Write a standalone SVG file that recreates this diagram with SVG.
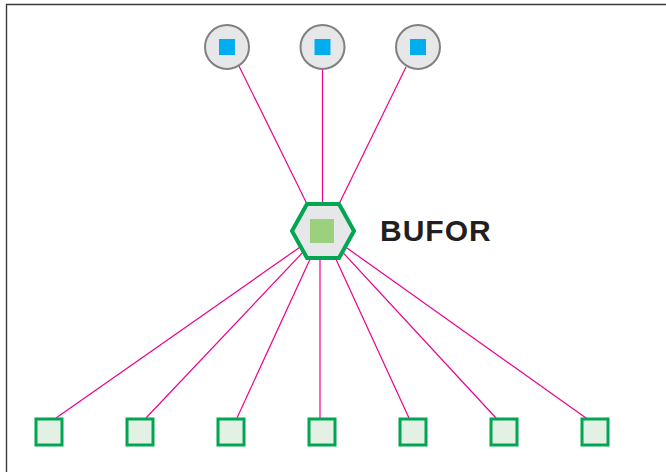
<svg xmlns="http://www.w3.org/2000/svg" width="666" height="472" viewBox="0 0 666 472">
<style>
.frame{fill:none;stroke:#3a3a3a;stroke-width:1.4}
.edge{stroke:#ec008c;stroke-width:1.2;fill:none}
.src circle{fill:#e6e7e8;stroke:#808080;stroke-width:2}
.src rect{fill:#00aeef}
.leaf rect{fill:#e3f1e5;stroke:#00a651;stroke-width:3}
.hub polygon{fill:#e6e7e8;stroke:#00a651;stroke-width:4;stroke-linejoin:miter}
.hub rect{fill:#9ccf7e}
.label{font-family:"Liberation Sans",Arial,sans-serif;font-weight:bold;font-size:30px;fill:#231f20;letter-spacing:1px}
</style>
<rect width="666" height="472" fill="#ffffff"/>
<path class="frame" d="M6.5,472 V4.5 H666"/>
<g id="connectors">
<line class="edge" x1="239" y1="66" x2="307" y2="204"/>
<line class="edge" x1="322.5" y1="69" x2="322.5" y2="204"/>
<line class="edge" x1="406" y1="67" x2="339" y2="204"/>
<line class="edge" x1="323" y1="231" x2="56" y2="418"/>
<line class="edge" x1="323" y1="231" x2="146" y2="418"/>
<line class="edge" x1="323" y1="231" x2="237" y2="418"/>
<line class="edge" x1="320" y1="250" x2="320" y2="418"/>
<line class="edge" x1="323" y1="231" x2="409" y2="418"/>
<line class="edge" x1="323" y1="231" x2="496" y2="418"/>
<line class="edge" x1="323" y1="231" x2="586" y2="418"/>
</g>
<g id="src1" class="src"><circle cx="227" cy="47" r="22"/><rect x="219" y="39" width="16" height="16"/></g>
<g id="src2" class="src"><circle cx="322.5" cy="47" r="22"/><rect x="314.5" y="39" width="16" height="16"/></g>
<g id="src3" class="src"><circle cx="418" cy="47" r="22"/><rect x="410" y="39" width="16" height="16"/></g>
<g id="hub" class="hub">
<polygon points="292,231 307,204 339,204 354,231 339,258 307,258"/>
<rect x="310" y="219" width="24" height="24"/>
</g>
<text id="hub-label" class="label" x="380" y="241">BUFOR</text>
<g id="leaf1" class="leaf"><rect x="36" y="419" width="26" height="26"/></g>
<g id="leaf2" class="leaf"><rect x="127" y="419" width="26" height="26"/></g>
<g id="leaf3" class="leaf"><rect x="218" y="419" width="26" height="26"/></g>
<g id="leaf4" class="leaf"><rect x="309" y="419" width="26" height="26"/></g>
<g id="leaf5" class="leaf"><rect x="400" y="419" width="26" height="26"/></g>
<g id="leaf6" class="leaf"><rect x="491" y="419" width="26" height="26"/></g>
<g id="leaf7" class="leaf"><rect x="582" y="419" width="26" height="26"/></g>
</svg>
